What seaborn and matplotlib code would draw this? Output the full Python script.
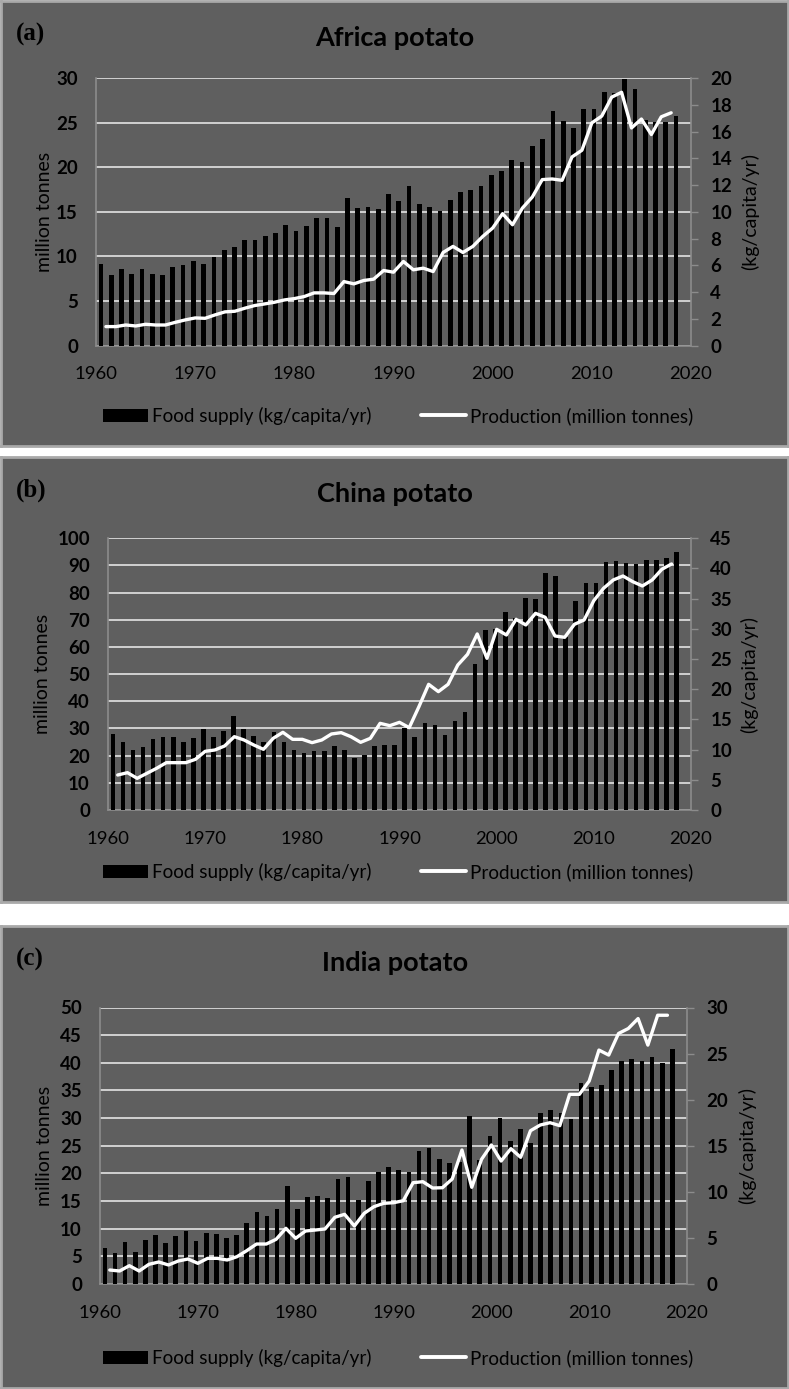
import numpy as np
import matplotlib
matplotlib.use("Agg")
import matplotlib.pyplot as plt
import seaborn as sns
from matplotlib.patches import Patch
from matplotlib.lines import Line2D

# years
years_prod = list(range(1961, 2019))
years_food = list(range(1961, 2018))

# Africa: food supply (kg/capita/yr), production (million tonnes)
africa_food = [6.11, 5.24, 5.71, 5.36, 5.76, 5.36, 5.26, 5.84, 5.99, 6.36,
               6.09, 6.59, 7.16, 7.34, 7.86, 7.91, 8.16, 8.41, 9.03, 8.58,
               8.93, 9.51, 9.51, 8.83, 11.05, 10.31, 10.36, 10.2, 11.31, 10.83,
               11.96, 10.61, 10.36, 10.03, 10.91, 11.45, 11.66, 11.96, 12.78, 13.03,
               13.9, 13.73, 14.95, 15.45, 17.57, 16.82, 16.28, 17.7, 17.65, 18.95,
               18.9, 19.9, 19.15, 16.85, 16.7, 16.7, 17.15]
africa_prod = [2.13, 2.13, 2.31, 2.2, 2.39, 2.31, 2.31, 2.61, 2.88, 3.1,
               3.06, 3.44, 3.78, 3.85, 4.19, 4.49, 4.67, 4.86, 5.12, 5.27,
               5.5, 5.91, 5.91, 5.84, 7.18, 6.92, 7.3, 7.45, 8.42, 8.23,
               9.43, 8.5, 8.68, 8.3, 10.44, 11.12, 10.44, 11.12, 12.24, 13.18,
               14.79, 13.55, 15.42, 16.66, 18.61, 18.68, 18.53, 21.15, 21.9, 24.97,
               25.73, 27.85, 28.4, 24.4, 25.4, 23.66, 25.65, 26.1]

# China
china_food = [12.59, 11.26, 9.94, 10.44, 11.82, 12.09, 12.04, 11.26, 11.93, 13.42,
              12.04, 13.03, 15.52, 13.42, 12.31, 11.21, 12.87, 11.21, 9.94, 9.39,
              9.72, 9.72, 10.66, 9.99, 8.61, 9.06, 10.66, 10.71, 10.7, 13.53,
              12.15, 14.47, 14.08, 12.48, 14.8, 16.29, 24.13, 29.82, 30.04, 32.74,
              31.86, 35.12, 34.9, 39.26, 38.76, 28.7, 34.62, 37.55, 37.55, 41.08,
              41.25, 40.86, 40.75, 41.36, 41.47, 41.74, 42.79]
china_prod = [12.88, 13.74, 11.66, 13.5, 15.34, 17.42, 17.42, 17.42, 18.65, 21.6,
              22.09, 23.56, 26.99, 25.77, 23.93, 22.33, 26.38, 28.59, 26.01, 26.01,
              24.79, 25.77, 27.98, 28.47, 26.99, 24.91, 26.38, 31.9, 31.04, 32.27,
              30.31, 38.04, 46.26, 43.56, 46.26, 53.37, 57.3, 64.79, 55.83, 66.5,
              64.42, 70.18, 68.1, 72.39, 70.92, 64.05, 63.56, 68.34, 69.94, 77.06,
              81.6, 84.66, 86.13, 84.05, 82.45, 84.66, 88.59, 90.55]

# India
india_food = [3.94, 3.36, 4.6, 3.43, 4.74, 5.28, 4.48, 5.24, 5.75, 4.7,
              5.57, 5.46, 4.96, 5.28, 6.58, 7.85, 7.38, 8.14, 10.63, 8.14,
              9.47, 9.58, 9.33, 11.36, 11.57, 9.11, 11.18, 12.19, 12.66, 12.37,
              12.15, 14.47, 14.75, 13.53, 13.16, 13.2, 18.26, 13.5, 16.06, 17.98,
              15.48, 16.82, 15.3, 18.59, 18.88, 18.59, 17.9, 21.77, 21.41, 21.59,
              23.22, 24.16, 24.38, 24.16, 24.63, 24.01, 25.53]
india_prod = [2.53, 2.35, 3.31, 2.35, 3.56, 3.98, 3.44, 4.16, 4.52, 3.74,
              4.64, 4.64, 4.34, 4.94, 6.03, 7.23, 7.23, 8.08, 10.07, 8.26,
              9.58, 9.76, 9.95, 12.06, 12.6, 10.49, 12.78, 13.98, 14.59, 14.7,
              15.06, 18.32, 18.5, 17.36, 17.41, 18.99, 24.23, 17.49, 22.55, 25.14,
              22.24, 24.47, 22.91, 27.72, 28.75, 29.17, 28.63, 34.3, 34.3, 36.7,
              42.3, 41.4, 45.3, 46.2, 48.0, 43.2, 48.6, 48.6]

food_label = "Food supply (kg/capita/yr)"
prod_label = "Production (million tonnes)"

BG = "#5f5f5f"
BORDER = "#a9a9a9"
GRID = "#d9d9d9"
AXIS = "#8c8c8c"

W, H = 789, 1389

sns.set_theme(style="white")
plt.rcParams["font.family"] = ["Lato", "DejaVu Sans"]
plt.rcParams["text.color"] = "black"
plt.rcParams["axes.labelcolor"] = "black"

fig = plt.figure(figsize=(W / 100, H / 100), dpi=100, facecolor="white")


def box(x0, y0, x1, y1):
    return [x0 / W, 1 - y1 / H, (x1 - x0) / W, (y1 - y0) / H]


panels = [
    dict(tag="(a)", title="Africa potato", food=africa_food, prod=africa_prod,
         frame=(1, 1, 788, 446), plot=(96, 78, 691, 345.6),
         left=(30, 5), right=(20, 2), ylab_l=43, ylab_r=751),
    dict(tag="(b)", title="China potato", food=china_food, prod=china_prod,
         frame=(1, 457, 788, 902), plot=(108, 538.3, 691, 810),
         left=(100, 10), right=(45, 5), ylab_l=41, ylab_r=750),
    dict(tag="(c)", title="India potato", food=india_food, prod=india_prod,
         frame=(1, 926, 788, 1388), plot=(100, 1007.5, 687, 1284),
         left=(50, 5), right=(30, 5), ylab_l=43, ylab_r=748),
]

for p in panels:
    fx0, fy0, fx1, fy1 = p["frame"]
    px0, py0, px1, py1 = p["plot"]

    # panel background
    bg = fig.add_axes(box(*p["frame"]), zorder=-5)
    bg.set_facecolor(BG)
    bg.set_xlim(fx0, fx1)
    bg.set_ylim(fy1, fy0)
    bg.set_xticks([])
    bg.set_yticks([])
    for s in bg.spines.values():
        s.set_color(BORDER)
        s.set_linewidth(2)
    bg.text(16, fy0 + 33, p["tag"], family=["Liberation Serif"], fontweight="bold",
            fontsize=18, ha="left", va="center")
    bg.text(395, fy0 + 37, p["title"], fontsize=19.5, fontweight="bold",
            ha="center", va="center")

    # main axes: left scale, grid, years
    lmax, lstep = p["left"]
    ax = fig.add_axes(box(*p["plot"]), zorder=1)
    ax.patch.set_visible(False)
    ax.set_xlim(1960, 2020)
    ax.set_ylim(0, lmax)
    lt = np.arange(0, lmax + 0.1, lstep)
    ax.set_yticks(lt, [f"{v:g}" for v in lt], fontweight="bold", fontsize=13.5)
    xt = list(range(1960, 2021, 10))
    ax.set_xticks(xt, [str(v) for v in xt], fontsize=13.3)
    ax.grid(axis="y", color=GRID, linewidth=1.3)
    ax.grid(axis="x", visible=False)
    ax.tick_params(axis="both", length=0, colors="black")
    ax.tick_params(axis="y", pad=13)
    ax.tick_params(axis="x", pad=15)
    for side in ["top", "right"]:
        ax.spines[side].set_visible(False)
    for side in ["left", "bottom"]:
        ax.spines[side].set_color(AXIS)
        ax.spines[side].set_linewidth(1.2)
    ax.set_ylabel("million tonnes", fontsize=14, color="black")
    ax.yaxis.set_label_coords((p["ylab_l"] + 10 - px0) / (px1 - px0), 0.5)

    # bars: food supply on right scale
    rmax, rstep = p["right"]
    axb = fig.add_axes(box(*p["plot"]), zorder=2)
    axb.patch.set_visible(False)
    sns.barplot(x=years_food, y=p["food"], native_scale=True, width=0.46,
                color="black", saturation=1, errorbar=None, linewidth=0, ax=axb)
    f = (len(years_food) - 1) / 58
    axb.set_xlim(years_food[0] - 0.5 * f, years_food[0] + 59.5 * f)
    axb.set_ylim(0, rmax)
    axb.set_xticks([])
    axb.yaxis.tick_right()
    axb.yaxis.set_label_position("right")
    rt = np.arange(0, rmax + 0.1, rstep)
    axb.set_yticks(rt, [f"{v:g}" for v in rt], fontweight="bold", fontsize=13.5)
    axb.tick_params(axis="y", length=5, width=1, color=AXIS, pad=9, colors="black")
    axb.tick_params(axis="y", color=AXIS)
    for side in ["top", "left", "bottom"]:
        axb.spines[side].set_visible(False)
    axb.spines["right"].set_color(AXIS)
    axb.spines["right"].set_linewidth(1.2)
    axb.set_xlabel("")
    axb.set_ylabel("(kg/capita/yr)", fontsize=14, rotation=90, color="black")
    axb.yaxis.set_label_coords((p["ylab_r"] - 10 - px0) / (px1 - px0), 0.5)

    # line: production on left scale
    axl = fig.add_axes(box(*p["plot"]), zorder=3)
    axl.patch.set_visible(False)
    sns.lineplot(x=years_prod, y=p["prod"], color="white", linewidth=2.4,
                 solid_joinstyle="round", ax=axl)
    axl.set_xlim(1960, 2020)
    axl.set_ylim(0, lmax)
    axl.axis("off")

    # legend
    handles = [Patch(facecolor="black", edgecolor="none"),
               Line2D([], [], color="white", linewidth=2.8)]
    bg.legend(handles, [food_label, prod_label], ncol=2, loc="center",
              bbox_to_anchor=(398, fy1 - 30), bbox_transform=bg.transData,
              frameon=False, fontsize=13.6, handlelength=2.4, handleheight=0.75,
              handletextpad=0.2, columnspacing=2.6, labelcolor="black")

fig.savefig("out.png", dpi=100, facecolor="white")
